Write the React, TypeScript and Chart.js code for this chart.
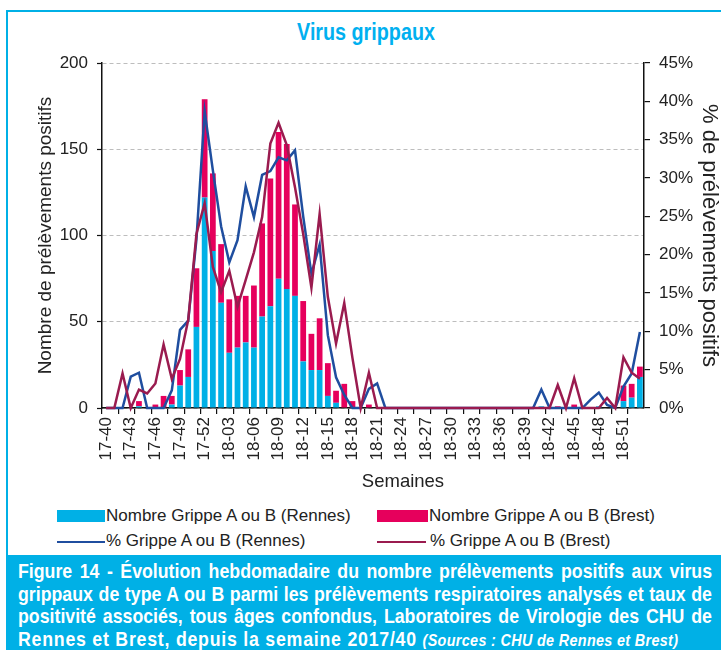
import React, { useEffect, useRef } from 'react';
import { Chart, registerables } from 'chart.js';

Chart.register(...registerables);

const weekLabels = [
  '17-40', '17-41', '17-42', '17-43', '17-44', '17-45', '17-46', '17-47', '17-48', '17-49',
  '17-50', '17-51', '17-52', '18-01', '18-02', '18-03', '18-04', '18-05', '18-06', '18-07',
  '18-08', '18-09', '18-10', '18-11', '18-12', '18-13', '18-14', '18-15', '18-16', '18-17',
  '18-18', '18-19', '18-20', '18-21', '18-22', '18-23', '18-24', '18-25', '18-26', '18-27',
  '18-28', '18-29', '18-30', '18-31', '18-32', '18-33', '18-34', '18-35', '18-36', '18-37',
  '18-38', '18-39', '18-40', '18-41', '18-42', '18-43', '18-44', '18-45', '18-46', '18-47',
  '18-48', '18-49', '18-50', '18-51', '18-52', '19-01',
];

const rennesCounts = [
  0, 0, 0, 0, 1, 0, 0, 0, 2, 13,
  18, 47, 122, 91, 61, 32, 35, 38, 35, 53,
  59, 75, 69, 65, 27, 22, 22, 7, 3, 0,
  0, 0, 0, 0, 0, 0, 0, 0, 0, 0,
  0, 0, 0, 0, 0, 0, 0, 0, 0, 0,
  0, 0, 0, 1, 0, 0, 0, 0, 0, 0,
  1, 0, 0, 4, 6, 18,
];

const brestCounts = [
  0, 0, 0, 0, 3, 0, 2, 7, 5, 9,
  16, 34, 57, 45, 34, 31, 30, 27, 36, 54,
  74, 85, 84, 53, 35, 21, 30, 19, 7, 14,
  4, 0, 2, 0, 0, 0, 0, 0, 0, 0,
  0, 0, 0, 0, 0, 0, 0, 0, 0, 0,
  0, 0, 0, 0, 0, 1, 0, 2, 0, 0,
  0, 0, 0, 9, 8, 6,
];

const rennesPct = [
  0, 0, 0, 4.1, 4.6, 0, 0, 0, 2.3, 10.2,
  11.4, 22, 38.7, 31, 23.7, 19, 21.9, 28.9, 24.9, 30.4,
  30.9, 32.7, 32.3, 33.6, 25, 17.5, 21.3, 9.5, 4, 1.7,
  0, 0, 2.5, 3.2, 0, 0, 0, 0, 0, 0,
  0, 0, 0, 0, 0, 0, 0, 0, 0, 0,
  0, 0, 0, 2.4, 0, 0, 0, 0, 0, 1.1,
  2, 0.4, 0, 2.8, 4.5, 9.9,
];

const brestPct = [
  0, 0, 4.5, 0, 2.4, 1.9, 3.2, 8.3, 3.8, 6.4,
  11.5, 22.7, 26.7, 18.4, 15.1, 17.9, 13.2, 16.7, 20.3, 24.9,
  34.5, 37.2, 34.3, 28.8, 22.7, 15.7, 25.3, 14.5, 8.4, 13.7,
  6.5, 0, 4.6, 0, 0, 0, 0, 0, 0, 0,
  0, 0, 0, 0, 0, 0, 0, 0, 0, 0,
  0, 0, 0, 0, 0, 3, 0, 3.9, 0, 0,
  0, 1.3, 0, 6.6, 4.6, 3.8,
];

const countAxis = { min: 0, max: 200, step: 50 };
const pctAxis = { min: 0, max: 45, step: 5 };

const CYAN = '#00b0e6';
const PINK = '#e6005c';
const BLUE = '#1f4e9f';
const MAROON = '#9a1b4f';
const TXT = '#222222';
const FRAME = '#00b0e6';
const FONT = '"Liberation Sans", Arial, sans-serif';

const captionLines = [
  'Figure 14 - Évolution hebdomadaire du nombre prélèvements positifs aux virus',
  'grippaux de type A ou B parmi les prélèvements respiratoires analysés et taux de',
  'positivité associés, tous âges confondus, Laboratoires de Virologie des CHU de',
];
const captionLast = 'Rennes et Brest, depuis la semaine 2017/40 ';
const captionSource = '(Sources : CHU de Rennes et Brest)';

const CAPTION_SCALE = 0.845;

export default function App() {
  const ref = useRef<HTMLCanvasElement>(null);

  useEffect(() => {
    if (!ref.current) return;
    Chart.defaults.font.family = FONT;
    const chart = new Chart(ref.current, {
      type: 'bar',
      data: {
        labels: weekLabels,
        datasets: [
          {
            type: 'line',
            label: '% Grippe A ou B (Brest)',
            data: brestPct,
            yAxisID: 'y1',
            borderColor: MAROON,
            backgroundColor: MAROON,
            borderWidth: 2.5,
            pointRadius: 0,
            tension: 0,
            order: 0,
            clip: false,
          } as any,
          {
            type: 'line',
            label: '% Grippe A ou B (Rennes)',
            data: rennesPct,
            yAxisID: 'y1',
            borderColor: BLUE,
            backgroundColor: BLUE,
            borderWidth: 2.5,
            pointRadius: 0,
            tension: 0,
            order: 1,
            clip: false,
          } as any,
          {
            type: 'bar',
            label: 'Nombre Grippe A ou B (Rennes)',
            data: rennesCounts,
            yAxisID: 'y',
            backgroundColor: CYAN,
            stack: 'n',
            order: 2,
            barPercentage: 0.7,
            categoryPercentage: 1,
          },
          {
            type: 'bar',
            label: 'Nombre Grippe A ou B (Brest)',
            data: brestCounts,
            yAxisID: 'y',
            backgroundColor: PINK,
            stack: 'n',
            order: 3,
            barPercentage: 0.7,
            categoryPercentage: 1,
          },
        ],
      },
      options: {
        responsive: false,
        animation: false,
        layout: { padding: { top: 63, left: 0, right: 0, bottom: 0 } },
        plugins: {
          legend: { display: false },
          tooltip: { enabled: false },
          title: { display: false },
        },
        scales: {
          x: {
            stacked: true,
            offset: true,
            grid: {
              offset: true,
              drawOnChartArea: false,
              drawTicks: true,
              tickLength: 6,
              lineWidth: 1.2,
              color: (ctx: any) => (ctx.index % 2 === 0 ? '#111' : 'rgba(0,0,0,0)'),
            },
            border: { display: true, color: '#111', width: 1.5 },
            ticks: {
              autoSkip: false,
              minRotation: 90,
              maxRotation: 90,
              padding: 3,
              color: TXT,
              font: { size: 17 },
              callback: (_v: any, i: number) => (i % 3 === 0 ? weekLabels[i] : ''),
            },
            title: { display: false },
            afterFit: (s: any) => {
              s.height = 92;
            },
          },
          y: {
            position: 'left',
            stacked: true,
            min: countAxis.min,
            max: countAxis.max,
            ticks: { stepSize: countAxis.step, color: TXT, font: { size: 17 }, padding: 9 },
            grid: {
              color: '#bdbdbd',
              lineWidth: 1,
              tickLength: 5,
              tickColor: '#111',
              tickWidth: 1.2,
            },
            border: { display: true, color: '#111', width: 1.5, dash: [4, 3] },
            title: {
              display: true,
              text: 'Nombre de prélèvements positifs',
              color: TXT,
              font: { size: 19 },
              padding: { top: 34, bottom: 0 },
            },
            afterFit: (s: any) => {
              s.width = 102;
            },
          },
          y1: {
            position: 'right',
            stacked: false,
            min: pctAxis.min,
            max: pctAxis.max,
            ticks: {
              stepSize: pctAxis.step,
              color: TXT,
              font: { size: 17 },
              padding: 9,
              callback: (v: any) => v + '%',
            },
            grid: {
              drawOnChartArea: false,
              tickLength: 6,
              color: '#111',
              lineWidth: 1.2,
            },
            border: { display: true, color: '#111', width: 1.5 },
            title: {
              display: true,
              text: '% de prélèvements positifs',
              color: TXT,
              font: { size: 22 },
              padding: { top: -1, bottom: 0 },
            },
            afterFit: (s: any) => {
              s.width = 77;
            },
          },
        },
      },
    });
    return () => chart.destroy();
  }, []);

  const legendText: React.CSSProperties = {
    position: 'absolute',
    fontSize: 17,
    lineHeight: '20px',
    color: TXT,
    whiteSpace: 'nowrap',
  };

  return (
    <div
      style={{
        position: 'absolute',
        left: 0,
        top: 0,
        width: 721,
        height: 650,
        overflow: 'hidden',
        fontFamily: FONT,
        background: '#fff',
      }}
    >
      <div
        style={{
          position: 'absolute',
          left: 6,
          top: 10,
          width: 740,
          height: 560,
          border: `2px solid ${FRAME}`,
          boxSizing: 'border-box',
        }}
      />
      <div
        style={{
          position: 'absolute',
          left: 216,
          top: 17,
          width: 300,
          textAlign: 'center',
          fontWeight: 'bold',
          fontSize: 23.5,
          lineHeight: '30px',
          color: '#00b0f0',
          transform: 'scaleX(0.84)',
          transformOrigin: '150px 0',
        }}
      >
        Virus grippaux
      </div>
      <canvas ref={ref} width={721} height={500} style={{ position: 'absolute', left: 0, top: 0 }} />
      <div
        style={{
          position: 'absolute',
          left: 303,
          top: 469,
          width: 200,
          textAlign: 'center',
          fontSize: 18.5,
          lineHeight: '24px',
          color: TXT,
        }}
      >
        Semaines
      </div>

      <div style={{ position: 'absolute', left: 57, top: 510, width: 48, height: 12, background: CYAN }} />
      <div style={{ ...legendText, left: 106, top: 506 }}>Nombre Grippe A ou B (Rennes)</div>
      <div style={{ position: 'absolute', left: 377, top: 510, width: 51, height: 12, background: PINK }} />
      <div style={{ ...legendText, left: 429, top: 506 }}>Nombre Grippe A ou B (Brest)</div>
      <div style={{ position: 'absolute', left: 57, top: 541, width: 48, height: 2, background: BLUE }} />
      <div style={{ ...legendText, left: 106, top: 531 }}>% Grippe A ou B (Rennes)</div>
      <div style={{ position: 'absolute', left: 377, top: 541, width: 49, height: 2, background: MAROON }} />
      <div style={{ ...legendText, left: 430, top: 531 }}>% Grippe A ou B (Brest)</div>

      <div
        style={{
          position: 'absolute',
          left: 6,
          top: 555,
          width: 720,
          height: 100,
          background: FRAME,
        }}
      />
      <div
        style={{
          position: 'absolute',
          left: 18,
          top: 560,
          width: 694 / CAPTION_SCALE,
          transform: `scaleX(${CAPTION_SCALE})`,
          transformOrigin: '0 0',
          color: '#fff',
          fontWeight: 'bold',
          fontSize: 21,
        }}
      >
        {captionLines.map((l) => (
          <div
            key={l}
            style={{
              lineHeight: '22.6px',
              textAlign: 'justify',
              textAlignLast: 'justify' as any,
              whiteSpace: 'nowrap',
            }}
          >
            {l}
          </div>
        ))}
        <div style={{ lineHeight: '22.6px', whiteSpace: 'nowrap' }}>
          <span style={{ letterSpacing: '0.9px' }}>{captionLast}</span>
          <span style={{ fontStyle: 'italic', fontSize: 17, letterSpacing: '0.4px' }}>{captionSource}</span>
        </div>
      </div>
    </div>
  );
}
